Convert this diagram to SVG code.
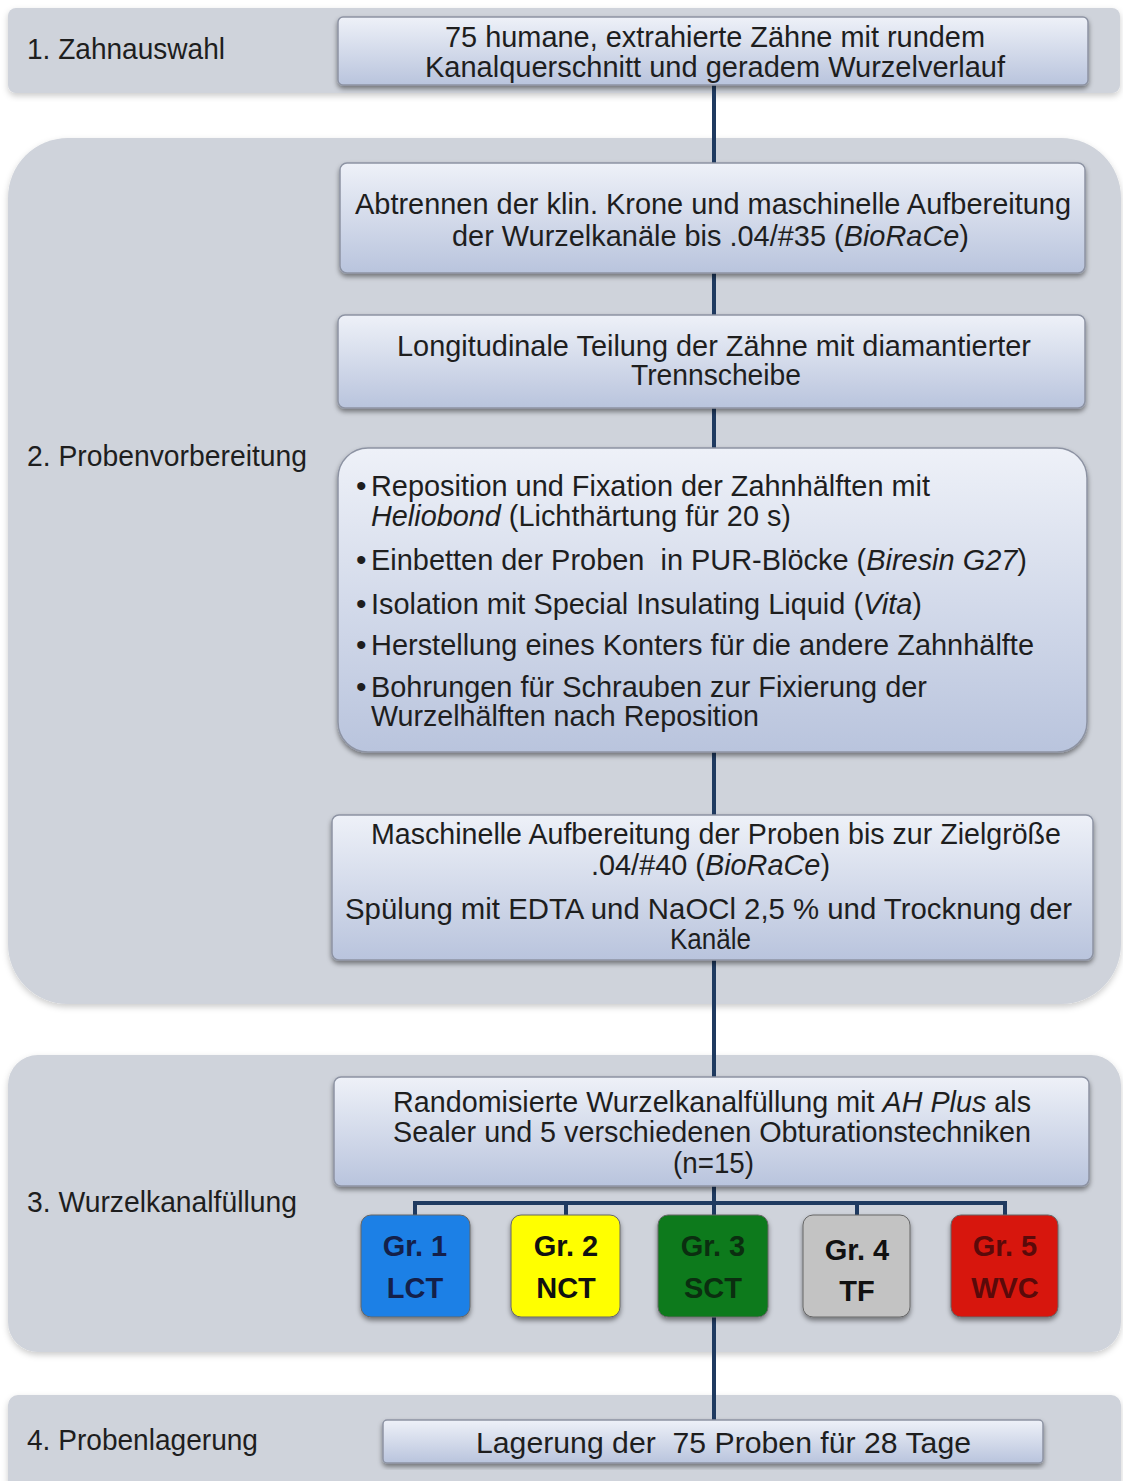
<svg xmlns="http://www.w3.org/2000/svg" width="1123" height="1481" viewBox="0 0 1123 1481" xml:space="preserve">
<defs>
<linearGradient id="boxg" x1="0" y1="0" x2="0" y2="1">
<stop offset="0" stop-color="#eef1f8"/>
<stop offset="1" stop-color="#b9c4dd"/>
</linearGradient>
<filter id="sh" x="-5%" y="-5%" width="110%" height="120%">
<feDropShadow dx="0" dy="3" stdDeviation="2.5" flood-color="#000" flood-opacity="0.45"/>
</filter>
<filter id="psh" x="-5%" y="-5%" width="110%" height="115%">
<feDropShadow dx="0" dy="3" stdDeviation="3" flood-color="#000" flood-opacity="0.2"/>
</filter>
<style>
.panel{fill:#cfd3db;filter:url(#psh)}
.box{fill:url(#boxg);stroke:#8d93a3;stroke-width:1.5;filter:url(#sh)}
.t{font-family:"Liberation Sans",Arial,sans-serif;font-size:30px;fill:#1e1e1e;white-space:pre}
.lab{font-family:"Liberation Sans",Arial,sans-serif;font-size:29px;fill:#1e1e1e}
.g{font-family:"Liberation Sans",Arial,sans-serif;font-size:29px;font-weight:bold;text-anchor:middle}
.gb{stroke:#666;stroke-width:1;filter:url(#sh)}
.con{stroke:#1f3a60;stroke-width:4;fill:none}
</style>
</defs>
<rect width="1123" height="1481" fill="#fff"/>

<g id="panels">
<rect class="panel" x="8" y="8" width="1112" height="85" rx="8"/>
<rect class="panel" x="8" y="138" width="1113" height="866" rx="60"/>
<rect class="panel" x="8" y="1055" width="1113" height="297" rx="30"/>
<rect class="panel" x="8" y="1395" width="1113" height="110" rx="10"/>
</g>

<g id="labels">
<text class="lab" x="27" y="59" textLength="198" lengthAdjust="spacingAndGlyphs">1. Zahnauswahl</text>
<text class="lab" x="27" y="466" textLength="280" lengthAdjust="spacingAndGlyphs">2. Probenvorbereitung</text>
<text class="lab" x="27" y="1212" textLength="270" lengthAdjust="spacingAndGlyphs">3. Wurzelkanalfüllung</text>
<text class="lab" x="27" y="1450" textLength="231" lengthAdjust="spacingAndGlyphs">4. Probenlagerung</text>
</g>

<g id="connectors">
<line class="con" x1="714" y1="85" x2="714" y2="1420"/>
<polyline class="con" points="415,1215 415,1203 1005,1203 1005,1215"/>
<line class="con" x1="566" y1="1203" x2="566" y2="1215"/>
<line class="con" x1="857" y1="1203" x2="857" y2="1215"/>
</g>

<g id="n1">
<rect class="box" x="338" y="17" width="750" height="68" rx="5"/>
<text class="t" x="445" y="47" textLength="540" lengthAdjust="spacingAndGlyphs">75 humane, extrahierte Zähne mit rundem</text>
<text class="t" x="425" y="77" textLength="580" lengthAdjust="spacingAndGlyphs">Kanalquerschnitt und geradem Wurzelverlauf</text>
</g>

<g id="n2a">
<rect class="box" x="340" y="163" width="745" height="110" rx="7"/>
<text class="t" x="355" y="214" textLength="716" lengthAdjust="spacingAndGlyphs">Abtrennen der klin. Krone und maschinelle Aufbereitung</text>
<text class="t" x="452" y="246" textLength="517" lengthAdjust="spacingAndGlyphs">der Wurzelkanäle bis .04/#35 (<tspan font-style="italic">BioRaCe</tspan>)</text>
</g>

<g id="n2b">
<rect class="box" x="338" y="315" width="747" height="93" rx="7"/>
<text class="t" x="397" y="356" textLength="634" lengthAdjust="spacingAndGlyphs">Longitudinale Teilung der Zähne mit diamantierter</text>
<text class="t" x="631" y="385" textLength="170" lengthAdjust="spacingAndGlyphs">Trennscheibe</text>
</g>

<g id="n2c">
<rect class="box" x="338" y="448" width="749" height="304" rx="30"/>
<text class="t" x="356" y="496">•</text>
<text class="t" x="371" y="496" textLength="559" lengthAdjust="spacingAndGlyphs">Reposition und Fixation der Zahnhälften mit</text>
<text class="t" x="371" y="526" textLength="420" lengthAdjust="spacingAndGlyphs"><tspan font-style="italic">Heliobond</tspan> (Lichthärtung für 20 s)</text>
<text class="t" x="356" y="570">•</text>
<text class="t" x="371" y="570" textLength="656" lengthAdjust="spacingAndGlyphs">Einbetten der Proben  in PUR-Blöcke (<tspan font-style="italic">Biresin G27</tspan>)</text>
<text class="t" x="356" y="614">•</text>
<text class="t" x="371" y="614" textLength="551" lengthAdjust="spacingAndGlyphs">Isolation mit Special Insulating Liquid (<tspan font-style="italic">Vita</tspan>)</text>
<text class="t" x="356" y="655">•</text>
<text class="t" x="371" y="655" textLength="663" lengthAdjust="spacingAndGlyphs">Herstellung eines Konters für die andere Zahnhälfte</text>
<text class="t" x="356" y="697">•</text>
<text class="t" x="371" y="697" textLength="556" lengthAdjust="spacingAndGlyphs">Bohrungen für Schrauben zur Fixierung der</text>
<text class="t" x="371" y="726" textLength="388" lengthAdjust="spacingAndGlyphs">Wurzelhälften nach Reposition</text>
</g>

<g id="n2d">
<rect class="box" x="332" y="815" width="761" height="145" rx="7"/>
<text class="t" x="371" y="844" textLength="690" lengthAdjust="spacingAndGlyphs">Maschinelle Aufbereitung der Proben bis zur Zielgröße</text>
<text class="t" x="591" y="875" textLength="239" lengthAdjust="spacingAndGlyphs">.04/#40 (<tspan font-style="italic">BioRaCe</tspan>)</text>
<text class="t" x="345" y="919" textLength="727" lengthAdjust="spacingAndGlyphs">Spülung mit EDTA und NaOCl 2,5 % und Trocknung der</text>
<text class="t" x="670" y="949" textLength="81" lengthAdjust="spacingAndGlyphs">Kanäle</text>
</g>

<g id="n3">
<rect class="box" x="334" y="1077" width="755" height="109" rx="7"/>
<text class="t" x="393" y="1112" textLength="638" lengthAdjust="spacingAndGlyphs">Randomisierte Wurzelkanalfüllung mit <tspan font-style="italic">AH Plus</tspan> als</text>
<text class="t" x="393" y="1142" textLength="638" lengthAdjust="spacingAndGlyphs">Sealer und 5 verschiedenen Obturationstechniken</text>
<text class="t" x="673" y="1173" textLength="81" lengthAdjust="spacingAndGlyphs">(n=15)</text>
</g>

<g id="gr1">
<rect class="gb" x="361" y="1215" width="109" height="102" rx="10" fill="#1a80e6"/>
<text class="g" x="415" y="1256" fill="#14204a">Gr. 1</text>
<text class="g" x="415" y="1298" fill="#14204a">LCT</text>
</g>
<g id="gr2">
<rect class="gb" x="511" y="1215" width="109" height="102" rx="10" fill="#ffff00"/>
<text class="g" x="566" y="1256" fill="#111">Gr. 2</text>
<text class="g" x="566" y="1298" fill="#111">NCT</text>
</g>
<g id="gr3">
<rect class="gb" x="658" y="1215" width="110" height="102" rx="10" fill="#0b7a1c"/>
<text class="g" x="713" y="1256" fill="#0b2e10">Gr. 3</text>
<text class="g" x="713" y="1298" fill="#0b2e10">SCT</text>
</g>
<g id="gr4">
<rect class="gb" x="803" y="1215" width="107" height="102" rx="10" fill="#c3c3c3"/>
<text class="g" x="857" y="1260" fill="#111">Gr. 4</text>
<text class="g" x="857" y="1301" fill="#111">TF</text>
</g>
<g id="gr5">
<rect class="gb" x="951" y="1215" width="107" height="102" rx="10" fill="#d7150f"/>
<text class="g" x="1005" y="1256" fill="#5a0a0a">Gr. 5</text>
<text class="g" x="1005" y="1298" fill="#5a0a0a">WVC</text>
</g>

<g id="n4">
<rect class="box" x="383" y="1420" width="660" height="43" rx="4"/>
<text class="t" x="476" y="1453" textLength="495" lengthAdjust="spacingAndGlyphs">Lagerung der  75 Proben für 28 Tage</text>
</g>
</svg>
